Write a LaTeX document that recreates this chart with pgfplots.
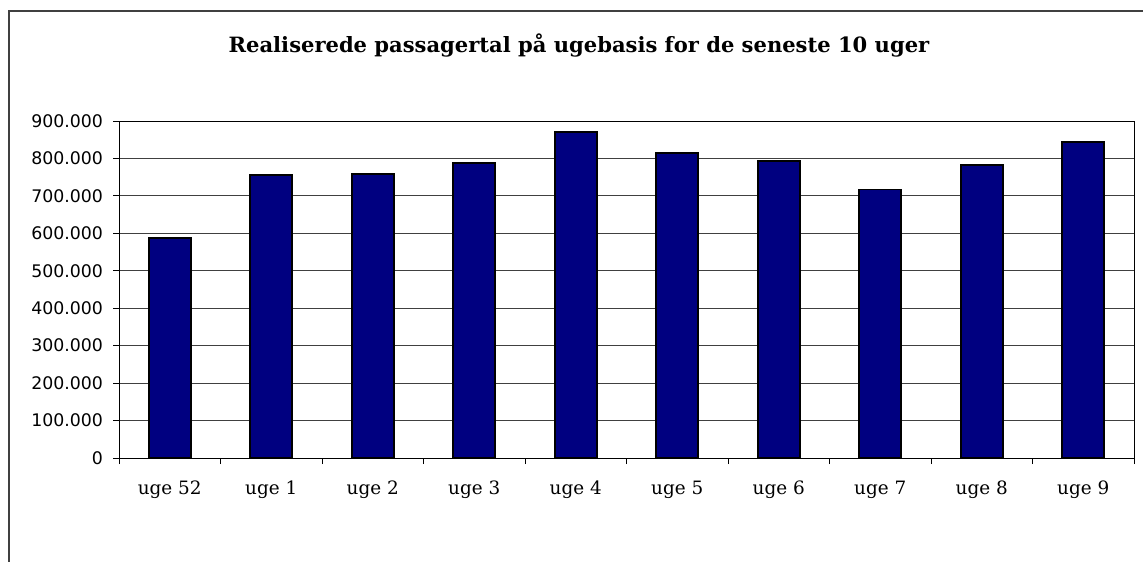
\documentclass[border=0pt]{standalone}
\usepackage{pgfplots}
\pgfplotsset{compat=1.18}
\usepackage{fontspec}
\setmainfont{DejaVu Serif}
\newfontfamily\ysans{DejaVu Sans}
\definecolor{barnavy}{RGB}{0,0,128}
\definecolor{framegray}{RGB}{64,64,64}
\begin{document}
\begin{tikzpicture}
\path[use as bounding box] (0pt,0pt) rectangle (857.25pt,-420.75pt);
\draw[framegray, line width=1.5pt] (6.75pt,-430pt) -- (6.75pt,-8.25pt) -- (870pt,-8.25pt);
\node[anchor=base, font=\bfseries\fontsize{15.8}{18}\selectfont] at (434.25pt,-39pt) {Realiserede passagertal på ugebasis for de seneste 10 uger};
\begin{axis}[
  at={(89.25pt,-343.5pt)}, anchor=south west,
  width=761.25pt, height=252.75pt, scale only axis,
  ybar, bar width=31.5pt,
  xmin=-0.5, xmax=9.5, ymin=0, ymax=900000,
  xtick={-0.5,0.5,1.5,2.5,3.5,4.5,5.5,6.5,7.5,8.5,9.5},
  xticklabels={uge 52,uge 1,uge 2,uge 3,uge 4,uge 5,uge 6,uge 7,uge 8,uge 9,},
  x tick label as interval,
  ytick={0,100000,200000,300000,400000,500000,600000,700000,800000,900000},
  yticklabels={0,100.000,200.000,300.000,400.000,500.000,600.000,700.000,800.000,900.000},
  tick style={black, line width=0.7pt},
  tick align=outside, major tick length=4.5pt,
  xtick pos=lower, ytick pos=left,
  ymajorgrids, grid style={black!75, line width=0.7pt},
  axis line style={black, line width=0.7pt},
  yticklabel style={font=\ysans\fontsize{13}{15}\selectfont, xshift=-4pt},
  xticklabel style={font=\fontsize{13.8}{15}\selectfont, yshift=-9pt, text height=10pt, text depth=3pt},
  scaled y ticks=false,
]
\addplot[fill=barnavy, draw=black, line width=1.3pt] coordinates {
(0,588000) (1,755000) (2,758000) (3,788000) (4,870000)
(5,815000) (6,793000) (7,717000) (8,782000) (9,843000)};
\end{axis}
\end{tikzpicture}
\end{document}
